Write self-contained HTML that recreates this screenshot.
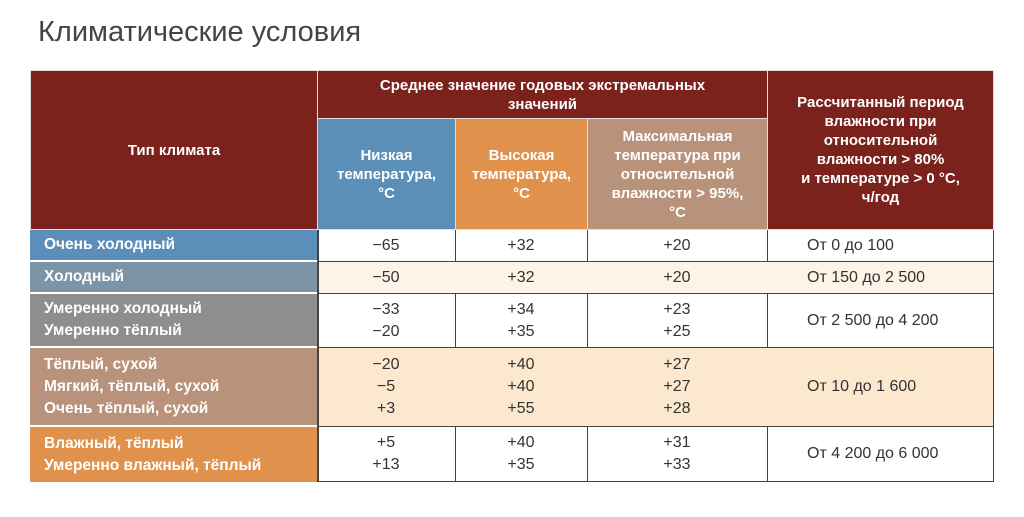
<!DOCTYPE html>
<html><head><meta charset="utf-8"><style>
body{margin:0;width:1024px;height:517px;background:#fff;font-family:"Liberation Sans","DejaVu Sans",sans-serif;position:relative;overflow:hidden}
.c{position:absolute;box-sizing:border-box;display:flex;align-items:center;justify-content:center;text-align:center}
.h{color:#fff;font-weight:bold;font-size:15px;line-height:19px;border:1px solid #e8dcd8}
.l{color:#fff;font-weight:bold;font-size:15.5px;line-height:22px;justify-content:flex-start;padding-left:14px;text-align:left;border-bottom:2px solid #fff}
.d{color:#333;font-size:16px;line-height:22px;border-right:1.5px solid #444;border-bottom:1.5px solid #444}
</style></head><body>
<div style="position:absolute;left:38px;top:16px;font-size:29px;color:#444">Климатические условия</div>

<div class="c h" style="left:30px;top:70px;width:288px;height:160px;background:#7a221b">Тип климата</div>
<div class="c h" style="left:317px;top:70px;width:451px;height:49px;background:#7a221b">Среднее значение годовых экстремальных<br>значений</div>
<div class="c h" style="left:317px;top:118px;width:139px;height:112px;background:#5b8fb7">Низкая<br>температура,<br>°C</div>
<div class="c h" style="left:455px;top:118px;width:133px;height:112px;background:#e0924c">Высокая<br>температура,<br>°C</div>
<div class="c h" style="left:587px;top:118px;width:181px;height:112px;background:#b8927a">Максимальная<br>температура при<br>относительной<br>влажности &gt; 95%,<br>°C</div>
<div class="c h" style="left:767px;top:70px;width:227px;height:160px;background:#7a221b">Рассчитанный период<br>влажности при<br>относительной<br>влажности &gt; 80%<br>и температуре &gt; 0 °C,<br>ч/год</div>

<!-- row 1 -->
<div class="c l" style="left:30px;top:230px;width:288px;height:32px;background:#5b8fb9">Очень холодный</div>
<div class="c d" style="left:317px;top:230px;width:139px;height:32px">−65</div>
<div class="c d" style="left:455px;top:230px;width:133px;height:32px">+32</div>
<div class="c d" style="left:587px;top:230px;width:181px;height:32px">+20</div>
<div class="c d" style="left:767px;top:230px;width:227px;height:32px;justify-content:flex-start;padding-left:40px">От 0 до 100</div>
<!-- row 2 -->
<div class="c l" style="left:30px;top:262px;width:288px;height:32px;background:#7d93a6">Холодный</div>
<div class="c d" style="left:317px;top:262px;width:139px;height:32px;background:#fdf3e6">−50</div>
<div class="c d" style="left:455px;top:262px;width:133px;height:32px;background:#fdf3e6">+32</div>
<div class="c d" style="left:587px;top:262px;width:181px;height:32px;background:#fdf3e6">+20</div>
<div class="c d" style="left:767px;top:262px;width:227px;height:32px;background:#fdf3e6;justify-content:flex-start;padding-left:40px">От 150 до 2 500</div>
<!-- row 3 -->
<div class="c l" style="left:30px;top:294px;width:288px;height:54px;background:#8e8e8e">Умеренно холодный<br>Умеренно тёплый</div>
<div class="c d" style="left:317px;top:294px;width:139px;height:54px">−33<br>−20</div>
<div class="c d" style="left:455px;top:294px;width:133px;height:54px">+34<br>+35</div>
<div class="c d" style="left:587px;top:294px;width:181px;height:54px">+23<br>+25</div>
<div class="c d" style="left:767px;top:294px;width:227px;height:54px;justify-content:flex-start;padding-left:40px">От 2 500 до 4 200</div>
<!-- row 4 -->
<div class="c l" style="left:30px;top:348px;width:288px;height:79px;background:#b8927a">Тёплый, сухой<br>Мягкий, тёплый, сухой<br>Очень тёплый, сухой</div>
<div class="c d" style="left:317px;top:348px;width:139px;height:79px;background:#fbe8cf">−20<br>−5<br>+3</div>
<div class="c d" style="left:455px;top:348px;width:133px;height:79px;background:#fbe8cf">+40<br>+40<br>+55</div>
<div class="c d" style="left:587px;top:348px;width:181px;height:79px;background:#fbe8cf">+27<br>+27<br>+28</div>
<div class="c d" style="left:767px;top:348px;width:227px;height:79px;background:#fbe8cf;justify-content:flex-start;padding-left:40px">От 10 до 1 600</div>
<!-- row 5 -->
<div class="c l" style="left:30px;top:427px;width:288px;height:55px;background:#e0924c;border-bottom:none">Влажный, тёплый<br>Умеренно влажный, тёплый</div>
<div class="c d" style="left:317px;top:427px;width:139px;height:55px">+5<br>+13</div>
<div class="c d" style="left:455px;top:427px;width:133px;height:55px">+40<br>+35</div>
<div class="c d" style="left:587px;top:427px;width:181px;height:55px">+31<br>+33</div>
<div class="c d" style="left:767px;top:427px;width:227px;height:55px;justify-content:flex-start;padding-left:40px">От 4 200 до 6 000</div>
<div style="position:absolute;left:317px;top:230px;width:1.5px;height:252px;background:#444"></div>
</body></html>
